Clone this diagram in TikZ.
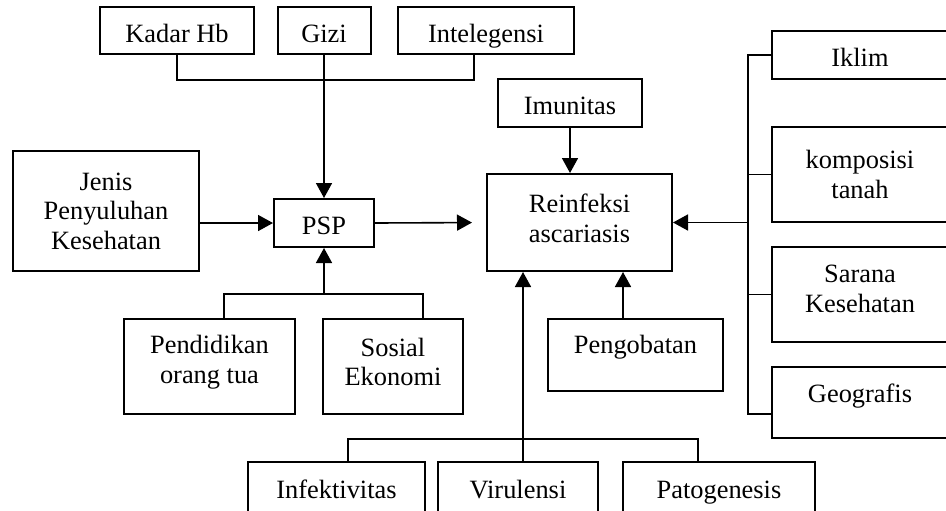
\documentclass[tikz,border=0pt]{standalone}
\usepackage{fontspec}
\setmainfont{Liberation Serif}
\usetikzlibrary{arrows.meta}
\tikzset{
  box/.style={draw,line width=1pt,align=center,inner sep=0pt,font=\fontsize{13.2pt}{14.8pt}\selectfont},
  sz/.style 2 args={minimum width=#1*0.5pt,minimum height=#2*0.5pt},
  lift/.style={text depth=#1},
  one/.style={text height=12pt,text depth=#1},
  one/.default=0.5pt,
  link/.style={line width=0.8pt},
  arr/.style={-{Triangle[length=7.5pt,width=8pt]},line width=0.8pt},
}

\begin{document}
\begin{tikzpicture}[x=0.5pt,y=-0.5pt]
\useasboundingbox (0,0) rectangle (946,510);
\clip (0,0) rectangle (946,510);

% top row
\node[box,one,sz={154}{47}] (kadar) at (177,30.5) {Kadar Hb};
\node[box,one,sz={93}{47}] (gizi) at (324,30.5) {Gizi};
\node[box,one,sz={176}{47}] (intel) at (486,30.5) {Intelegensi};
\node[box,one,sz={144}{48}] (imun) at (570,103) {Imunitas};

% middle
\node[box,sz={186}{120}] (jenis) at (106,211) {Jenis\\Penyuluhan\\Kesehatan};
\node[box,one,sz={100}{48}] (psp) at (324,223) {PSP};
\node[box,sz={185}{97},lift=4.5pt] (reinf) at (579.5,222.5) {Reinfeksi\\ascariasis};
\node[box,sz={171}{95},lift=7.4pt] (pend) at (209.5,366.5) {Pendidikan\\orang tua};
\node[box,sz={140}{95},lift=4.5pt] (sos) at (393,366.5) {Sosial\\Ekonomi};
\node[box,one=14pt,sz={175}{72}] (peng) at (635.5,355) {Pengobatan};

% right column
\node[box,one,sz={176}{48}] (iklim) at (860,55) {Iklim};
\node[box,sz={176}{95}] (kompos) at (860,174.5) {komposisi\\tanah};
\node[box,sz={176}{95},lift=5.5pt] (sarana) at (860,294.5) {Sarana\\Kesehatan};
\node[box,one=12pt,sz={176}{71}] (geo) at (860,402.5) {Geografis};

% bottom row
\node[box,one=4pt,sz={177}{56}] (infek) at (336.5,490) {Infektivitas};
\node[box,one=4pt,sz={160}{56}] (viru) at (518,490) {Virulensi};
\node[box,one=4pt,sz={192}{56}] (pato) at (719,490) {Patogenesis};

% connectors
\coordinate (tbus) at (324,80);
\draw[link] (kadar.south) |- (tbus) -| ([xshift=-6pt]intel.south);
\draw[arr] (gizi.south) -- (psp.north);
\draw[arr] (jenis.east |- psp.west) -- (psp.west);
\draw[arr,shorten >=7pt] (psp.east) -- (reinf.west);

\coordinate (mbus) at (324,294);
\draw[link] ([xshift=7.25pt]pend.north) |- (mbus) -| ([xshift=15pt]sos.north);
\draw[arr] (mbus) -- (psp.south);

\coordinate (rbus) at (748,414);
\draw[link] (iklim.west) -| (rbus) -- (rbus -| geo.west);
\draw[link] (kompos.west) -- (kompos.west -| rbus);
\draw[link] (sarana.west) -- (sarana.west -| rbus);
\draw[arr] (reinf.east -| rbus) -- (reinf.east);

\draw[arr] (imun.south) -- (imun.south |- reinf.north);
\draw[arr] ([xshift=-6.25pt]peng.north) -- ([xshift=-6.25pt]peng.north |- reinf.south);

\coordinate (bbus) at (523,439);
\draw[link] ([xshift=5.75pt]infek.north) |- (bbus) -| ([xshift=-10.5pt]pato.north);
\draw[arr] ([xshift=2.5pt]viru.north) -- (bbus |- reinf.south);

\end{tikzpicture}
\end{document}
